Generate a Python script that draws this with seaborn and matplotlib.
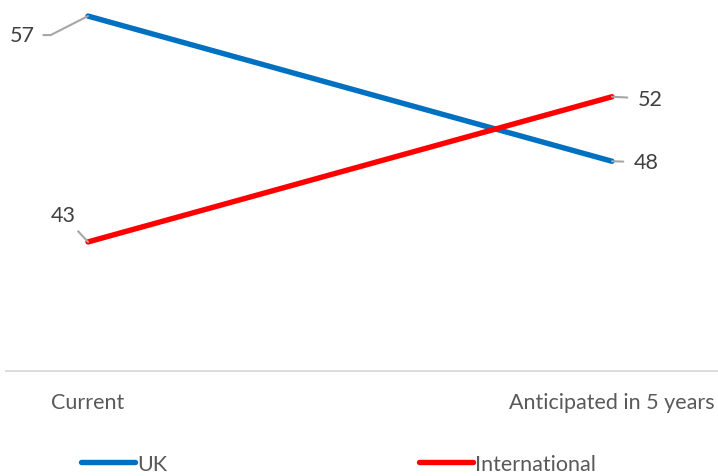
import matplotlib
matplotlib.use("Agg")
import matplotlib.pyplot as plt
import seaborn as sns
import pandas as pd
from matplotlib.lines import Line2D

periods = ["Current", "Anticipated in 5 years"]
uk_values = [57, 48]
intl_values = [43, 52]
series_names = ["UK", "International"]
series_colors = ["#0070C0", "#FF0000"]

df = pd.DataFrame({
    "period": periods * 2,
    "pos": [0, 1] * 2,
    "value": uk_values + intl_values,
    "series": [series_names[0]] * 2 + [series_names[1]] * 2,
})

sns.set_theme(style="white")
plt.rcParams["font.family"] = ["Lato", "DejaVu Sans"]

fig = plt.figure(figsize=(7.18, 4.77), dpi=100)
ax = fig.add_axes([6 / 718, 105 / 477, 712 / 718, 372 / 477])

sns.lineplot(data=df, x="pos", y="value", hue="series", hue_order=series_names,
             palette=series_colors, linewidth=3.9, ax=ax, legend=False,
             solid_capstyle="round")
for ln in ax.get_lines():
    ln.set_clip_on(False)

ax.set_xlim(-82 / 524, 1 + 106 / 524)
ax.set_ylim(35, 57 + 17 / 16.07)
ax.set_xticks([0, 1])
ax.set_xticklabels(periods, fontsize=15.5, color="#595959")
ax.tick_params(axis="x", length=0, pad=15)
ax.set_yticks([])
ax.set_xlabel("")
ax.set_ylabel("")
for s in ["top", "left", "right"]:
    ax.spines[s].set_visible(False)
ax.spines["bottom"].set_color("#D9D9D9")
ax.spines["bottom"].set_linewidth(1.3)

lead = dict(arrowstyle="-", color="#A6A6A6", lw=1.5)
txt = dict(fontsize=15.5, color="#404040", ha="center", va="center",
           textcoords="offset points", annotation_clip=False)
px = 72 / 100
ax.annotate(str(uk_values[0]), xy=(0, uk_values[0]), xytext=(-66 * px, -19 * px),
            arrowprops=dict(lead, connectionstyle="angle,angleA=0,angleB=27", shrinkA=4, shrinkB=0), **txt)
ax.annotate(str(intl_values[0]), xy=(0, intl_values[0]), xytext=(-25 * px, 27 * px),
            arrowprops=dict(lead, shrinkA=3, shrinkB=0), **txt)
ax.annotate(str(intl_values[1]), xy=(1, intl_values[1]), xytext=(38 * px, -2 * px),
            arrowprops=dict(lead, shrinkA=5, shrinkB=0), **txt)
ax.annotate(str(uk_values[1]), xy=(1, uk_values[1]), xytext=(34 * px, -1 * px),
            arrowprops=dict(lead, shrinkA=5, shrinkB=0), **txt)

handles = [Line2D([], [], color=c, lw=3.9, solid_capstyle="round") for c in series_colors]
leg = fig.legend(handles, series_names, loc="center left", bbox_to_anchor=(66 / 718, 12 / 477),
                 ncol=2, frameon=False, fontsize=15.5, handlelength=2.5, handletextpad=0.1,
                 columnspacing=11.7, labelcolor="#595959", borderaxespad=0.3)

fig.savefig("out.png", dpi=100)
